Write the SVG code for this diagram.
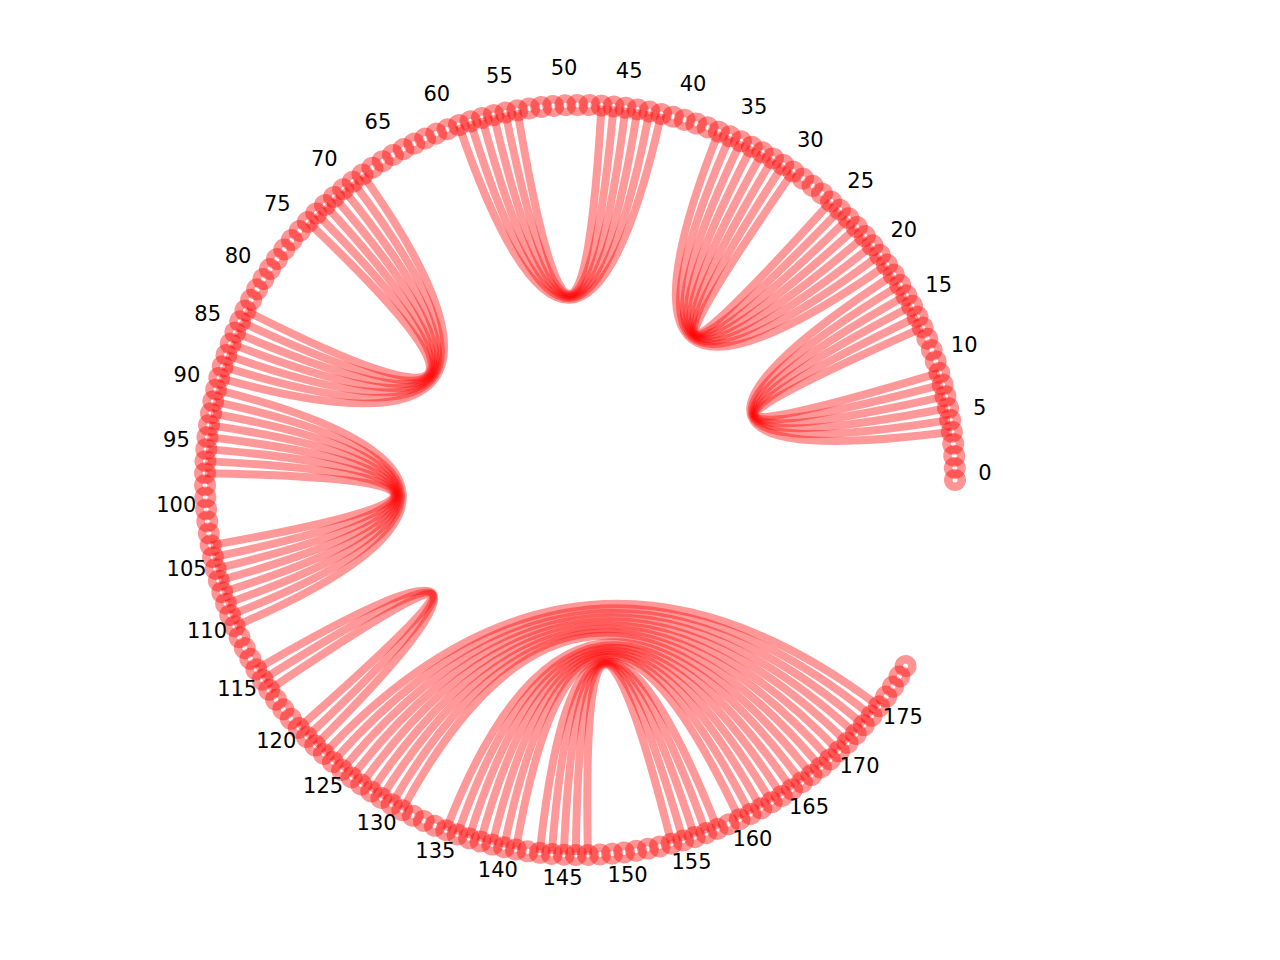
<svg xmlns="http://www.w3.org/2000/svg" width="1280" height="960" viewBox="0 0 1280 960">
<style>
.lbl{font-family:"DejaVu Sans","Liberation Sans",sans-serif;font-size:21px;fill:#000;text-anchor:middle}
</style>
<defs>
<circle id="dot" cx="375" cy="0" r="6.75" fill="none" stroke="#ff0000" stroke-opacity="0.42" stroke-width="8.5"/>
<g id="d5"><use href="#dot"/><use href="#dot" transform="rotate(-1.845)"/><use href="#dot" transform="rotate(-3.69)"/><use href="#dot" transform="rotate(-5.535)"/><use href="#dot" transform="rotate(-7.38)"/></g>
<g id="d30"><use href="#d5"/><use href="#d5" transform="rotate(-9.225)"/><use href="#d5" transform="rotate(-18.45)"/><use href="#d5" transform="rotate(-27.675)"/><use href="#d5" transform="rotate(-36.9)"/><use href="#d5" transform="rotate(-46.125)"/></g>
<path id="c4" d="M374.2,-24.1Q0,0 374.2,24.1"/>
<path id="c5" d="M373.8,-30.2Q0,0 373.8,30.2"/>
<path id="c6" d="M373.3,-36.2Q0,0 373.3,36.2"/>
<path id="c7" d="M372.6,-42.2Q0,0 372.6,42.2"/>
<path id="c8" d="M371.9,-48.2Q0,0 371.9,48.2"/>
<path id="c9" d="M371.1,-54.2Q0,0 371.1,54.2"/>
<path id="c10" d="M370.2,-60.1Q0,0 370.2,60.1"/>
<path id="c11" d="M369.1,-66.1Q0,0 369.1,66.1"/>
<path id="c12" d="M368,-72Q0,0 368,72"/>
<path id="c13" d="M366.8,-77.9Q0,0 366.8,77.9"/>
<path id="c14" d="M365.5,-83.8Q0,0 365.5,83.8"/>
<path id="c15" d="M364.1,-89.7Q0,0 364.1,89.7"/>
<path id="c16" d="M362.6,-95.5Q0,0 362.6,95.5"/>
<path id="c17" d="M361,-101.4Q0,0 361,101.4"/>
<path id="c18" d="M359.4,-107.2Q0,0 359.4,107.2"/>
<path id="c19" d="M357.6,-112.9Q0,0 357.6,112.9"/>
<path id="c20" d="M355.7,-118.7Q0,0 355.7,118.7"/>
<path id="c21" d="M353.8,-124.4Q0,0 353.8,124.4"/>
<path id="c23" d="M349.6,-135.7Q0,0 349.6,135.7"/>
<path id="c25" d="M345,-146.9Q0,0 345,146.9"/>
<path id="c27" d="M340.1,-157.9Q0,0 340.1,157.9"/>
<path id="c29" d="M334.9,-168.8Q0,0 334.9,168.8"/>
<path id="c31" d="M329.2,-179.5Q0,0 329.2,179.5"/>
<path id="c36" d="M313.7,-205.4Q0,0 313.7,205.4"/>
<path id="c38" d="M307,-215.4Q0,0 307,215.4"/>
<path id="c40" d="M299.9,-225.2Q0,0 299.9,225.2"/>
<path id="c42" d="M292.5,-234.7Q0,0 292.5,234.7"/>
<path id="c44" d="M284.8,-244Q0,0 284.8,244"/>
<path id="c46" d="M276.8,-253Q0,0 276.8,253"/>
<path id="c48" d="M268.5,-261.8Q0,0 268.5,261.8"/>
<path id="c50" d="M259.9,-270.3Q0,0 259.9,270.3"/>
<path id="c52" d="M251.1,-278.6Q0,0 251.1,278.6"/>
</defs>
<rect width="1280" height="960" fill="#ffffff"/>
<g id="connectors" fill="none" stroke="#ff0000" stroke-opacity="0.4" stroke-width="8">
<g id="bundle-1" transform="translate(580 480) rotate(-20.295)"><use href="#c14"/><use href="#c12"/><use href="#c10"/><use href="#c8"/><use href="#c6"/><use href="#c4"/></g>
<g id="bundle-2" transform="translate(580 480) rotate(-51.66)"><use href="#c18"/><use href="#c16"/><use href="#c14"/><use href="#c12"/><use href="#c10"/><use href="#c8"/><use href="#c6"/><use href="#c4"/></g>
<g id="bundle-3" transform="translate(580 480) rotate(-93.1725)"><use href="#c17"/><use href="#c15"/><use href="#c13"/><use href="#c11"/><use href="#c9"/><use href="#c7"/></g>
<g id="bundle-4" transform="translate(580 480) rotate(-144.8325)"><use href="#c21"/><use href="#c19"/><use href="#c17"/><use href="#c15"/><use href="#c13"/><use href="#c11"/><use href="#c9"/></g>
<g id="bundle-5" transform="translate(580 480) rotate(-184.5)"><use href="#c20"/><use href="#c18"/><use href="#c16"/><use href="#c14"/><use href="#c12"/><use href="#c10"/><use href="#c8"/><use href="#c6"/></g>
<g id="bundle-6" transform="translate(580 480) rotate(-217.71)"><use href="#c8"/><use href="#c6"/><use href="#c4"/></g>
<g id="bundle-7" transform="translate(580 480) rotate(-274.905)"><use href="#c52"/><use href="#c50"/><use href="#c48"/><use href="#c46"/><use href="#c44"/><use href="#c42"/><use href="#c40"/><use href="#c38"/><use href="#c36"/></g>
<g id="bundle-8" transform="translate(580 480) rotate(-277.6725)"><use href="#c31"/><use href="#c29"/><use href="#c27"/><use href="#c25"/><use href="#c23"/><use href="#c21"/><use href="#c19"/><use href="#c15"/><use href="#c13"/><use href="#c11"/><use href="#c9"/><use href="#c7"/></g>
</g>
<g id="nodes" transform="translate(580 480)">
<use href="#d30"/><use href="#d30" transform="rotate(-55.35)"/><use href="#d30" transform="rotate(-110.7)"/><use href="#d30" transform="rotate(-166.05)"/><use href="#d30" transform="rotate(-221.4)"/><use href="#d30" transform="rotate(-276.75)"/>
</g>
<g id="labels" class="lbl">
<g transform="translate(580 480) rotate(0) translate(405 0) rotate(0)"><text>0</text></g>
<g transform="translate(580 480) rotate(-9.225) translate(405 0) rotate(9.225)"><text>5</text></g>
<g transform="translate(580 480) rotate(-18.45) translate(405 0) rotate(18.45)"><text>10</text></g>
<g transform="translate(580 480) rotate(-27.675) translate(405 0) rotate(27.675)"><text>15</text></g>
<g transform="translate(580 480) rotate(-36.9) translate(405 0) rotate(36.9)"><text>20</text></g>
<g transform="translate(580 480) rotate(-46.125) translate(405 0) rotate(46.125)"><text>25</text></g>
<g transform="translate(580 480) rotate(-55.35) translate(405 0) rotate(55.35)"><text>30</text></g>
<g transform="translate(580 480) rotate(-64.575) translate(405 0) rotate(64.575)"><text>35</text></g>
<g transform="translate(580 480) rotate(-73.8) translate(405 0) rotate(73.8)"><text>40</text></g>
<g transform="translate(580 480) rotate(-83.025) translate(405 0) rotate(83.025)"><text>45</text></g>
<g transform="translate(580 480) rotate(-92.25) translate(405 0) rotate(92.25)"><text>50</text></g>
<g transform="translate(580 480) rotate(-101.475) translate(405 0) rotate(101.475)"><text>55</text></g>
<g transform="translate(580 480) rotate(-110.7) translate(405 0) rotate(110.7)"><text>60</text></g>
<g transform="translate(580 480) rotate(-119.925) translate(405 0) rotate(119.925)"><text>65</text></g>
<g transform="translate(580 480) rotate(-129.15) translate(405 0) rotate(129.15)"><text>70</text></g>
<g transform="translate(580 480) rotate(-138.375) translate(405 0) rotate(138.375)"><text>75</text></g>
<g transform="translate(580 480) rotate(-147.6) translate(405 0) rotate(147.6)"><text>80</text></g>
<g transform="translate(580 480) rotate(-156.825) translate(405 0) rotate(156.825)"><text>85</text></g>
<g transform="translate(580 480) rotate(-166.05) translate(405 0) rotate(166.05)"><text>90</text></g>
<g transform="translate(580 480) rotate(-175.275) translate(405 0) rotate(175.275)"><text>95</text></g>
<g transform="translate(580 480) rotate(-184.5) translate(405 0) rotate(184.5)"><text>100</text></g>
<g transform="translate(580 480) rotate(-193.725) translate(405 0) rotate(193.725)"><text>105</text></g>
<g transform="translate(580 480) rotate(-202.95) translate(405 0) rotate(202.95)"><text>110</text></g>
<g transform="translate(580 480) rotate(-212.175) translate(405 0) rotate(212.175)"><text>115</text></g>
<g transform="translate(580 480) rotate(-221.4) translate(405 0) rotate(221.4)"><text>120</text></g>
<g transform="translate(580 480) rotate(-230.625) translate(405 0) rotate(230.625)"><text>125</text></g>
<g transform="translate(580 480) rotate(-239.85) translate(405 0) rotate(239.85)"><text>130</text></g>
<g transform="translate(580 480) rotate(-249.075) translate(405 0) rotate(249.075)"><text>135</text></g>
<g transform="translate(580 480) rotate(-258.3) translate(405 0) rotate(258.3)"><text>140</text></g>
<g transform="translate(580 480) rotate(-267.525) translate(405 0) rotate(267.525)"><text>145</text></g>
<g transform="translate(580 480) rotate(-276.75) translate(405 0) rotate(276.75)"><text>150</text></g>
<g transform="translate(580 480) rotate(-285.975) translate(405 0) rotate(285.975)"><text>155</text></g>
<g transform="translate(580 480) rotate(-295.2) translate(405 0) rotate(295.2)"><text>160</text></g>
<g transform="translate(580 480) rotate(-304.425) translate(405 0) rotate(304.425)"><text>165</text></g>
<g transform="translate(580 480) rotate(-313.65) translate(405 0) rotate(313.65)"><text>170</text></g>
<g transform="translate(580 480) rotate(-322.875) translate(405 0) rotate(322.875)"><text>175</text></g>
</g>
</svg>
